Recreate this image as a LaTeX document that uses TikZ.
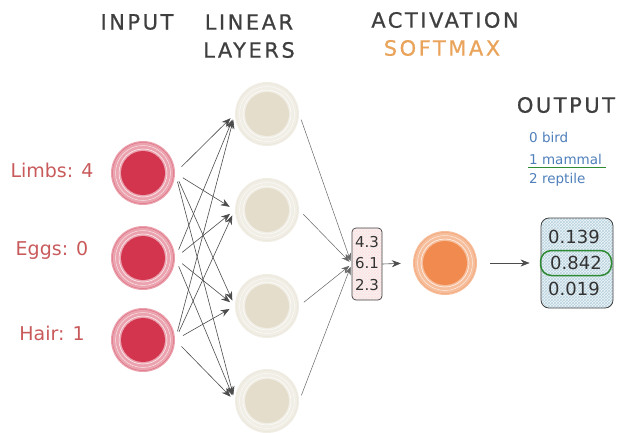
\documentclass[tikz,border=0pt]{standalone}
\usepackage{fontspec}
\setmainfont{DejaVu Sans}
\newfontfamily\headfont[LetterSpace=12, FakeBold=0.8]{DejaVu Sans}
\usetikzlibrary{arrows.meta,patterns}
\definecolor{incore}{HTML}{D3354F}
\definecolor{inring}{HTML}{EBA3AF}
\definecolor{lincore}{HTML}{E4DDCB}
\definecolor{linring}{HTML}{F1EEE6}
\definecolor{actcore}{HTML}{F08A4E}
\definecolor{actring}{HTML}{F7BE9C}
\definecolor{headgray}{HTML}{3F3F3F}
\definecolor{labred}{HTML}{C95A5C}
\definecolor{smorange}{HTML}{E9A35A}
\definecolor{clsblue}{HTML}{4F7FBA}
\definecolor{okgreen}{HTML}{2F8A34}
\definecolor{outfill}{HTML}{EFF6F9}
\definecolor{outhatch}{HTML}{B9D3DF}

\begin{document}
\begin{tikzpicture}[x=1pt,y=-1pt,
	blob/.style 2 args={circle, minimum size=64pt, inner sep=0pt, fill=#2,
		path picture={\fill[#1] (path picture bounding box.center) circle (22pt);
			\draw[white, line width=0.6pt, opacity=0.8] (path picture bounding box.center) circle (24pt);
			\draw[white, line width=0.5pt, opacity=0.7] (path picture bounding box.center) circle (27.5pt);
			\draw[#1, line width=0.5pt, opacity=0.45] (path picture bounding box.center) circle (30.5pt);}},
	head/.style={font=\headfont\fontsize{21}{25}\selectfont, text=headgray},
	feat/.style={font=\fontsize{19}{23}\selectfont, text=labred},
	cls/.style={font=\fontsize{13.5}{16}\selectfont, text=clsblue, anchor=west, inner sep=1pt},
	num/.style={font=\fontsize{15}{18}\selectfont, text=black!80, inner sep=0pt},
	bignum/.style={font=\fontsize{18}{21}\selectfont, text=black!80, inner sep=0pt},
	arr/.style={-{Stealth[length=9pt,width=7pt]}, draw=black!70, line width=0.6pt},
	thin/.style={-{Stealth[length=8pt,width=6pt]}, draw=black!60, line width=0.5pt}]
	\useasboundingbox (0,0) rectangle (636,432);

		\node[head] (t1) at (137,22) {INPUT};
		\node[head] (t2) at (249,22) {LINEAR};
		\node[head] (t3) at (249,50) {LAYERS};
		\node[head] (t4) at (445,20) {ACTIVATION};
		\node[head, text=smorange] (t5) at (442,48) {SOFTMAX};
		\node[head] (t6) at (566,105) {OUTPUT};

		\node[cls] (c0) at (528,137) {0 bird};
		\node[cls] (c1) at (528,159) {1 mammal};
		\node[cls] (c2) at (528,180) {2 reptile};

		\node[feat] (f1) at (52,170) {Limbs: 4};
		\node[feat] (f2) at (52,250) {Eggs: 0};
		\node[feat] (f3) at (52,333) {Hair: 1};

		\node[blob={incore}{inring}] (in1) at (143,173) {};
		\node[blob={incore}{inring}] (in2) at (143,258) {};
		\node[blob={incore}{inring}] (in3) at (143,340) {};

		\node[blob={lincore}{linring}] (h1) at (267,114) {};
		\node[blob={lincore}{linring}] (h2) at (267,210) {};
		\node[blob={lincore}{linring}] (h3) at (267,306) {};
		\node[blob={lincore}{linring}] (h4) at (267,401) {};

		\node[draw=black!75, line width=0.7pt, rounded corners=4pt, minimum width=30pt, minimum height=72pt,
			preaction={fill=black!4}, pattern=crosshatch, pattern color=red!12] (vec) at (367,264) {};
		\node[num] (v1) at (367,242) {4.3};
		\node[num] (v2) at (367,263) {6.1};
		\node[num] (v3) at (367,285) {2.3};

		\node[blob={actcore}{actring}] (act) at (445,263) {};

		\node[draw=black!75, line width=0.8pt, rounded corners=8pt, minimum width=72pt, minimum height=90pt,
			preaction={fill=outfill}, pattern=crosshatch, pattern color=outhatch] (out) at (577,263) {};
		\node[bignum] (o1) at (574,237) {0.139};
		\node[bignum, draw=okgreen, line width=1.5pt, rounded corners=11pt, minimum width=71pt, minimum height=25pt] (o2) at (576,263) {0.842};
		\node[bignum] (o3) at (574,289) {0.019};

		\draw[okgreen, line width=1.8pt] ([yshift=-2pt]c1.south west) -- ([xshift=3pt,yshift=-2pt]c1.south east);

		\draw[arr, shorten <=9pt, shorten >=6pt] (in1.east) -- (h1.west);
		\draw[arr, shorten <=9pt, shorten >=6pt] (in1.east) -- (h2.west);
		\draw[arr, shorten <=9pt, shorten >=6pt] (in1.east) -- (h3.west);
		\draw[arr, shorten <=9pt, shorten >=6pt] (in1.east) -- (h4.west);
		\draw[arr, shorten <=9pt, shorten >=6pt] (in2.east) -- (h1.west);
		\draw[arr, shorten <=9pt, shorten >=6pt] (in2.east) -- (h2.west);
		\draw[arr, shorten <=9pt, shorten >=6pt] (in2.east) -- (h3.west);
		\draw[arr, shorten <=9pt, shorten >=6pt] (in2.east) -- (h4.west);
		\draw[arr, shorten <=9pt, shorten >=6pt] (in3.east) -- (h1.west);
		\draw[arr, shorten <=9pt, shorten >=6pt] (in3.east) -- (h2.west);
		\draw[arr, shorten <=9pt, shorten >=6pt] (in3.east) -- (h3.west);
		\draw[arr, shorten <=9pt, shorten >=6pt] (in3.east) -- (h4.west);

		\draw[thin, shorten <=6pt, shorten >=3pt] (h1.east) -- (vec.west);
		\draw[thin, shorten <=6pt, shorten >=3pt] (h2.east) -- (vec.west);
		\draw[thin, shorten <=6pt, shorten >=3pt] (h3.east) -- (vec.west);
		\draw[thin, shorten <=6pt, shorten >=3pt] (h4.east) -- (vec.west);

		\draw[arr, shorten >=12pt] (vec.east) -- (act.west);
		\draw[arr, shorten <=13pt, shorten >=11pt] (act.east) -- (out.west);
	\end{tikzpicture}
\end{document}
